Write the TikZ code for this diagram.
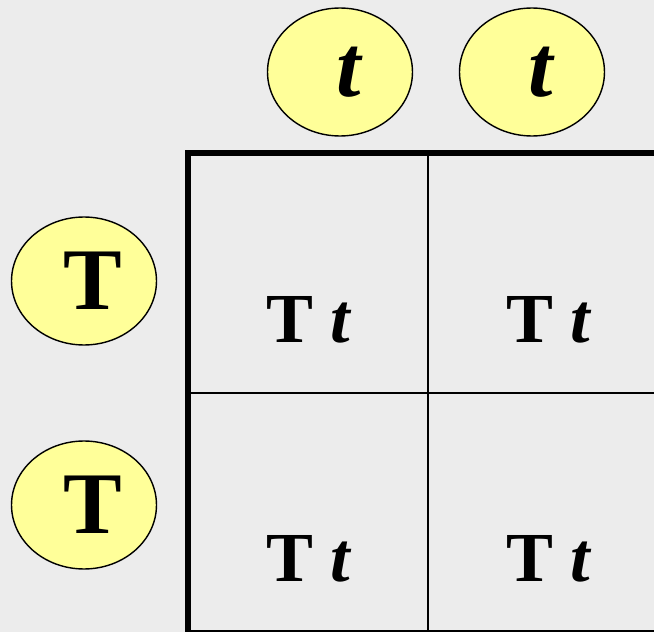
\documentclass[tikz,border=0pt]{standalone}
\usepackage{fontspec}
\setmainfont{Liberation Serif}
\usetikzlibrary{shapes.geometric}
\definecolor{bggray}{RGB}{236,236,236}
\definecolor{paleyellow}{RGB}{255,255,153}
\tikzset{
	allele/.style={ellipse, draw=black, line width=0.8pt, fill=paleyellow, minimum width=2.9cm, minimum height=2.56cm, inner sep=0pt, font=\fontsize{50}{50}\selectfont\bfseries},
	geno/.style={anchor=base, inner sep=0pt, font=\fontsize{40}{40}\selectfont\bfseries},
}
\begin{document}
\begin{tikzpicture}[x=0.02cm, y=-0.02cm]
		\useasboundingbox[fill=bggray] (0,0) rectangle (654,632);
		\clip (0,0) rectangle (654,632);

		\begin{scope}
			% gametes of the first parent (top)
			\foreach \x/\l in {340/ta, 532/tb} {
					\node[allele] (\l) at (\x, 72) {\hspace*{0.4cm}\textit{t}};
				}
			% gametes of the second parent (left)
			\foreach \y/\l in {281/Ta, 505/Tb} {
					\node[allele] (\l) at (84, \y) {\hspace*{0.36cm}T};
				}
		\end{scope}

		\begin{scope}
			\draw[line width=0.04cm] (428,153) -- (428,633);
			\draw[line width=0.04cm] (188,393) -- (668,393);
			\draw[line width=0.12cm] (188,153) rectangle (668,633);
			\foreach \x/\c in {309/a, 549/b} {
					\foreach \y/\r in {342/1, 582/2} {
							\node[geno] (\c\r) at (\x, \y) {T \textit{t}};
						}
				}
		\end{scope}
	\end{tikzpicture}
\end{document}
